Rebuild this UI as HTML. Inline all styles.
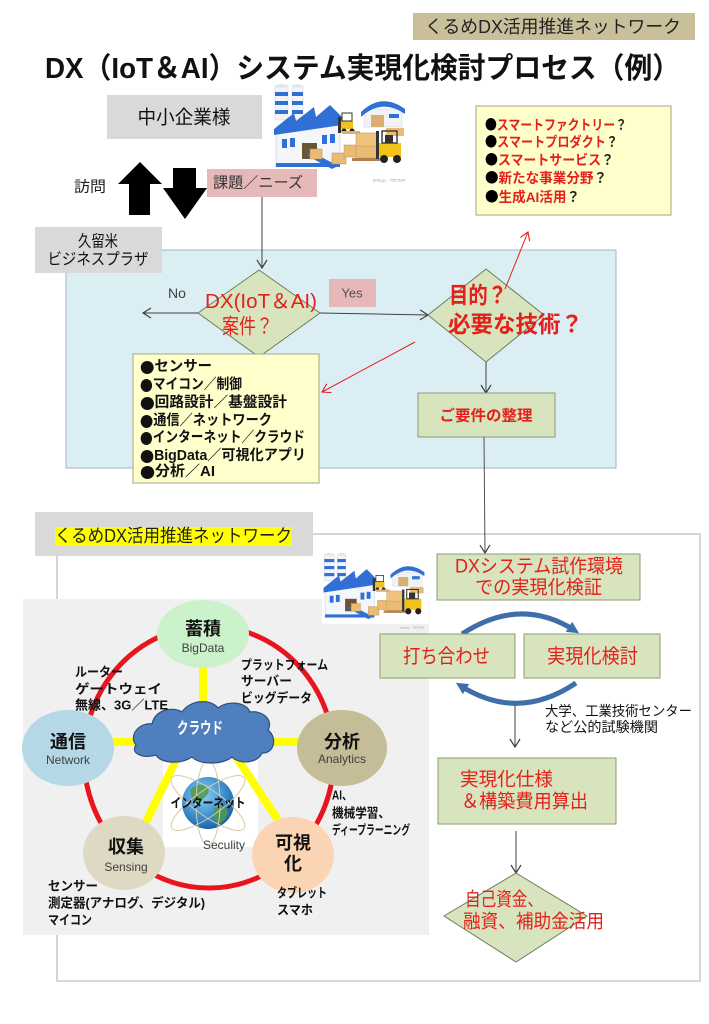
<!DOCTYPE html>
<html><head><meta charset="utf-8">
<style>
html,body{margin:0;padding:0;background:#fff;}
svg{display:block;}
text{font-family:"Liberation Sans","Noto Sans CJK JP",sans-serif;dominant-baseline:central;}
.b{font-family:"Noto Sans CJK JP","WenQuanYi Zen Hei",sans-serif;}
</style></head><body>
<svg width="709" height="1024" viewBox="0 0 709 1024" xmlns="http://www.w3.org/2000/svg">
<defs>
<marker id="ah" markerWidth="12" markerHeight="12" refX="10" refY="6" orient="auto" markerUnits="userSpaceOnUse">
 <path d="M2,1 L10,6 L2,11" fill="none" stroke="#404040" stroke-width="1.2"/>
</marker>
<marker id="ahr" markerWidth="12" markerHeight="12" refX="10" refY="6" orient="auto" markerUnits="userSpaceOnUse">
 <path d="M2,1 L10,6 L2,11" fill="none" stroke="#e3201b" stroke-width="1.1"/>
</marker>
<marker id="ahb" markerWidth="14" markerHeight="14" refX="6" refY="7" orient="auto" markerUnits="userSpaceOnUse">
 <path d="M0,1 L12,7 L0,13 Z" fill="#3f6fa8"/>
</marker>
<radialGradient id="gl" cx="0.4" cy="0.35" r="0.7">
 <stop offset="0" stop-color="#8fd0f4"/>
 <stop offset="0.6" stop-color="#3a8fd0"/>
 <stop offset="1" stop-color="#1d5d9e"/>
</radialGradient>
<g id="factory">
 <rect x="0" y="0" width="138" height="92" fill="#fff"/>
 <rect x="3" y="3" width="13" height="34" fill="#f2f4f8" stroke="#c8d0dc" stroke-width="0.5"/>
 <rect x="3" y="9" width="13" height="4" fill="#2f6fd6"/>
 <rect x="3" y="18" width="13" height="4" fill="#2f6fd6"/>
 <rect x="3" y="27" width="13" height="4" fill="#2f6fd6"/>
 <ellipse cx="9.5" cy="3" rx="6.5" ry="2" fill="#e4e8ee"/>
 <rect x="20" y="3" width="11" height="34" fill="#f2f4f8" stroke="#c8d0dc" stroke-width="0.5"/>
 <rect x="20" y="9" width="11" height="4" fill="#2f6fd6"/>
 <rect x="20" y="18" width="11" height="4" fill="#2f6fd6"/>
 <rect x="20" y="27" width="11" height="4" fill="#2f6fd6"/>
 <ellipse cx="25.5" cy="3" rx="5.5" ry="2" fill="#e4e8ee"/>
 <polygon points="4,48 68,40 68,78 4,84" fill="#f4f6fa" stroke="#c0c8d8" stroke-width="0.6"/>
 <polygon points="2,46 22,30 24,38 42,24 44,34 58,22 70,34 70,42 2,52" fill="#2f6fd6"/>
 <rect x="4" y="80" width="64" height="4" fill="#2f6fd6"/>
 <rect x="10" y="56" width="5" height="9" fill="#2f6fd6"/>
 <rect x="18" y="55" width="5" height="9" fill="#2f6fd6"/>
 <rect x="50" y="52" width="5" height="9" fill="#2f6fd6"/>
 <rect x="58" y="51" width="5" height="9" fill="#2f6fd6"/>
 <rect x="30" y="60" width="15" height="16" fill="#6a5436"/>
 <polygon points="34,72 60,86 66,83 40,69" fill="#2f6fd6"/>
 <rect x="38" y="66" width="12" height="10" fill="#e9bb73" stroke="#c49050" stroke-width="0.5"/>
 <rect x="60" y="70" width="14" height="11" fill="#e9bb73" stroke="#c49050" stroke-width="0.5"/>
 <rect x="72" y="62" width="16" height="12" fill="#e9bb73" stroke="#c49050" stroke-width="0.5"/>
 <rect x="84" y="50" width="22" height="14" fill="#efc27e" stroke="#c49050" stroke-width="0.5"/>
 <rect x="84" y="63" width="22" height="12" fill="#e9bb73" stroke="#c49050" stroke-width="0.5"/>
 <rect x="80" y="75" width="28" height="3" fill="#b08050"/>
 <rect x="66" y="34" width="3" height="16" fill="#333"/>
 <rect x="69" y="38" width="12" height="8" fill="#f2c21a"/>
 <rect x="70" y="30" width="10" height="8" fill="none" stroke="#333" stroke-width="1"/>
 <circle cx="72" cy="48" r="2.5" fill="#222"/>
 <circle cx="80" cy="48" r="2.5" fill="#222"/>
 <rect x="70" y="48" width="18" height="3" fill="#d9b070"/>
 <rect x="92" y="26" width="38" height="18" fill="#f0f2f6" stroke="#c8d0dc" stroke-width="0.5"/>
 <path d="M89,29 Q110,9 133,26 L133,31 Q110,15 89,34 Z" fill="#2f6fd6"/>
 <rect x="99" y="32" width="13" height="12" fill="#d9b070"/>
 <rect x="117" y="31" width="10" height="4" fill="#2f6fd6"/>
 <rect x="114" y="45" width="18" height="8" fill="#e9bb73"/>
 <rect x="104" y="48" width="3" height="28" fill="#333"/>
 <rect x="107" y="60" width="22" height="14" fill="#f2c21a"/>
 <rect x="110" y="48" width="15" height="12" fill="none" stroke="#333" stroke-width="1.4"/>
 <rect x="113" y="52" width="8" height="8" fill="#333"/>
 <circle cx="112" cy="76" r="4" fill="#222"/>
 <circle cx="125" cy="76" r="4" fill="#222"/>
 <text x="101" y="97" font-size="4" fill="#999">pixta.jp - 7557334</text>
</g>
</defs>

<!-- top label -->
<rect x="413" y="13" width="282" height="27" fill="#c9bf9b"/>
<text x="425" y="27" font-size="18" fill="#222" textLength="256" lengthAdjust="spacingAndGlyphs">くるめDX活用推進ネットワーク</text>

<!-- title -->
<text x="45" y="69" font-size="29" font-weight="bold" fill="#111" textLength="635" lengthAdjust="spacingAndGlyphs">DX（IoT＆AI）システム実現化検討プロセス（例）</text>

<!-- factory image top -->
<use href="#factory" transform="translate(272,83)"/>

<!-- 中小企業様 -->
<rect x="107" y="95" width="155" height="44" fill="#d9d9d9"/>
<text x="184" y="118" font-size="19" fill="#111" text-anchor="middle" textLength="93" lengthAdjust="spacingAndGlyphs">中小企業様</text>

<!-- arrows -->
<polygon points="140,162 162,184 150,184 150,215 129,215 129,184 118,184" fill="#000"/>
<polygon points="173,168 196,168 196,188 207,188 185,219 163,188 173,188" fill="#000"/>
<text x="74" y="187" font-size="15" fill="#222" textLength="32" lengthAdjust="spacingAndGlyphs">訪問</text>

<!-- 課題 -->
<rect x="207" y="169" width="110" height="28" fill="#e6b9b8"/>
<text x="213" y="183" font-size="15" fill="#333" textLength="90" lengthAdjust="spacingAndGlyphs">課題／ニーズ</text>

<!-- yellow top right box -->
<rect x="476" y="106" width="195" height="109" fill="#ffffcc" stroke="#a6a68a" stroke-width="1"/>
<g font-size="14" font-weight="bold">
<text x="485" y="125" textLength="142" lengthAdjust="spacingAndGlyphs"><tspan class="b" fill="#000">●</tspan><tspan fill="#e3201b">スマートファクトリー</tspan><tspan fill="#222">？</tspan></text>
<text x="485" y="142" textLength="133" lengthAdjust="spacingAndGlyphs"><tspan class="b" fill="#000">●</tspan><tspan fill="#e3201b">スマートプロダクト</tspan><tspan fill="#222">？</tspan></text>
<text x="485" y="160" textLength="129" lengthAdjust="spacingAndGlyphs"><tspan class="b" fill="#000">●</tspan><tspan fill="#e3201b">スマートサービス</tspan><tspan fill="#222">？</tspan></text>
<text x="485" y="178" textLength="122" lengthAdjust="spacingAndGlyphs"><tspan class="b" fill="#000">●</tspan><tspan fill="#e3201b">新たな事業分野</tspan><tspan fill="#222">？</tspan></text>
<text x="485" y="197" textLength="95" lengthAdjust="spacingAndGlyphs"><tspan class="b" fill="#000">●</tspan><tspan fill="#e3201b">生成AI活用</tspan><tspan fill="#222">？</tspan></text>
</g>

<!-- blue box -->
<rect x="66" y="250" width="550" height="218" fill="#dbeef4" stroke="#a0b4c4" stroke-width="1"/>

<!-- 久留米 box -->
<rect x="35" y="227" width="127" height="46" fill="#d9d9d9"/>
<text x="98" y="242" font-size="16" fill="#111" text-anchor="middle" textLength="40" lengthAdjust="spacingAndGlyphs">久留米</text>
<text x="98" y="260" font-size="16" fill="#111" text-anchor="middle" textLength="101" lengthAdjust="spacingAndGlyphs">ビジネスプラザ</text>

<!-- connector 課題 -> diamond -->
<line x1="262" y1="197" x2="262" y2="268" stroke="#404040" stroke-width="1" marker-end="url(#ah)"/>

<!-- left diamond -->
<polygon points="259,270 320,313 259,357 198,313" fill="#d7e4bd" stroke="#6e7d60" stroke-width="1"/>
<line x1="198" y1="313" x2="143" y2="313" stroke="#404040" stroke-width="1" marker-end="url(#ah)"/>
<text x="168" y="293" font-size="14" fill="#404040">No</text>
<text x="205" y="302" font-size="20" fill="#e3201b" textLength="112" lengthAdjust="spacingAndGlyphs">DX(IoT＆AI)</text>
<text x="222" y="327" font-size="21" fill="#e3201b" textLength="51" lengthAdjust="spacingAndGlyphs">案件？</text>

<!-- Yes -->
<rect x="329" y="279" width="47" height="28" fill="#e6b9b8"/>
<text x="352" y="293" font-size="13" fill="#505050" text-anchor="middle">Yes</text>
<line x1="320" y1="313" x2="428" y2="315" stroke="#404040" stroke-width="1" marker-end="url(#ah)"/>

<!-- right diamond -->
<polygon points="486,269 544,315 486,362 428,315" fill="#d7e4bd" stroke="#6e7d60" stroke-width="1"/>
<line x1="505" y1="289" x2="528" y2="232" stroke="#e3201b" stroke-width="1" marker-end="url(#ahr)"/>
<text x="449" y="295" font-size="23" font-weight="bold" fill="#e3201b" textLength="58" lengthAdjust="spacingAndGlyphs">目的？</text>
<text x="448" y="324" font-size="23" font-weight="bold" fill="#e3201b" textLength="135" lengthAdjust="spacingAndGlyphs">必要な技術？</text>

<line x1="486" y1="362" x2="486" y2="393" stroke="#404040" stroke-width="1" marker-end="url(#ah)"/>
<rect x="418" y="393" width="137" height="44" fill="#d7e4bd" stroke="#8c9b72" stroke-width="1"/>
<text x="486" y="416" font-size="15" font-weight="bold" fill="#e3201b" text-anchor="middle" textLength="93" lengthAdjust="spacingAndGlyphs">ご要件の整理</text>

<!-- red arrow to list -->
<line x1="415" y1="342" x2="322" y2="392" stroke="#e3201b" stroke-width="1" marker-end="url(#ahr)"/>

<!-- list box -->
<rect x="133" y="354" width="186" height="129" fill="#ffffcc" stroke="#a6a68a" stroke-width="1"/>
<g font-size="14.5" font-weight="bold" fill="#111">
<text x="140" y="367" textLength="72" lengthAdjust="spacingAndGlyphs"><tspan class="b">●</tspan>センサー</text>
<text x="140" y="385" textLength="102" lengthAdjust="spacingAndGlyphs"><tspan class="b">●</tspan>マイコン／制御</text>
<text x="140" y="403" textLength="147" lengthAdjust="spacingAndGlyphs"><tspan class="b">●</tspan>回路設計／基盤設計</text>
<text x="140" y="421" textLength="132" lengthAdjust="spacingAndGlyphs"><tspan class="b">●</tspan>通信／ネットワーク</text>
<text x="140" y="438" textLength="165" lengthAdjust="spacingAndGlyphs"><tspan class="b">●</tspan>インターネット／クラウド</text>
<text x="140" y="456" textLength="166" lengthAdjust="spacingAndGlyphs"><tspan class="b">●</tspan>BigData／可視化アプリ</text>
<text x="140" y="472" textLength="75" lengthAdjust="spacingAndGlyphs"><tspan class="b">●</tspan>分析／AI</text>
</g>

<!-- big box -->
<rect x="57" y="534" width="643" height="447" fill="none" stroke="#c8c8c8" stroke-width="1.5"/>

<!-- line to DX box -->
<line x1="484" y1="437" x2="485" y2="553" stroke="#505050" stroke-width="1" marker-end="url(#ah)"/>

<!-- gray label -->
<rect x="35" y="512" width="278" height="44" fill="#d9d9d9"/>
<rect x="55" y="527" width="237" height="19" fill="#ffff00"/>
<text x="55" y="536" font-size="18" fill="#222" textLength="237" lengthAdjust="spacingAndGlyphs">くるめDX活用推進ネットワーク</text>

<!-- network panel -->
<rect x="23" y="599" width="406" height="336" fill="#f0f0f0"/>
<ellipse cx="209" cy="757" rx="125" ry="131" fill="none" stroke="#e8141e" stroke-width="5"/>

<!-- internet -->
<rect x="163" y="757" width="95" height="90" fill="#fff"/>
<circle cx="208" cy="803" r="26" fill="url(#gl)"/>
<path d="M190,790 q8,-8 16,-4 q6,6 -2,12 q-6,8 -12,2 z" fill="#4f9a48" opacity="0.85"/>
<path d="M214,808 q10,-4 14,4 q-2,10 -10,12 q-6,-6 -4,-16 z" fill="#4f9a48" opacity="0.85"/>
<ellipse cx="208" cy="803" rx="44" ry="13" fill="none" stroke="#d9c9a3" stroke-width="1" transform="rotate(35 208 803)"/>
<ellipse cx="208" cy="803" rx="44" ry="13" fill="none" stroke="#d9c9a3" stroke-width="1" transform="rotate(-35 208 803)"/>
<ellipse cx="208" cy="803" rx="42" ry="12" fill="none" stroke="#d9c9a3" stroke-width="1" transform="rotate(90 208 803)"/>
<text x="208" y="803" font-size="13" font-weight="bold" fill="#111" text-anchor="middle" textLength="75" lengthAdjust="spacingAndGlyphs">インターネット</text>
<text x="203" y="845" font-size="12" fill="#404040" textLength="42" lengthAdjust="spacingAndGlyphs">Seculity</text>

<!-- yellow connectors -->
<g stroke="#ffff00" stroke-width="8" stroke-linecap="butt">
<line x1="203" y1="664" x2="203" y2="704"/>
<line x1="110" y1="742" x2="138" y2="742"/>
<line x1="266" y1="742" x2="300" y2="742"/>
<line x1="178" y1="756" x2="145" y2="824"/>
<line x1="235" y1="755" x2="278" y2="820"/>
</g>

<!-- cloud -->
<path d="M136,745 C128,735 140,722 152,724 C155,710 172,706 182,712 C190,700 210,698 218,708 C228,700 246,702 250,712 C262,710 274,720 268,730 C278,738 274,754 262,753 C258,763 240,765 232,757 C222,765 200,765 192,757 C180,765 160,763 156,755 C142,759 130,753 136,745 Z" fill="#4f7fbe" stroke="#2f4f7f" stroke-width="1.2"/>
<text x="200" y="729" font-size="16" font-weight="bold" fill="#fff" text-anchor="middle" textLength="46" lengthAdjust="spacingAndGlyphs">クラウド</text>

<!-- ellipses -->
<ellipse cx="203" cy="634" rx="46" ry="34" fill="#ccf2cc"/>
<text x="203" y="629" font-size="18" font-weight="bold" fill="#111" text-anchor="middle">蓄積</text>
<text x="203" y="648" font-size="12" fill="#404040" text-anchor="middle">BigData</text>

<ellipse cx="68" cy="748" rx="46" ry="38" fill="#b4d8e6"/>
<text x="68" y="742" font-size="18" font-weight="bold" fill="#111" text-anchor="middle">通信</text>
<text x="68" y="760" font-size="12" fill="#404040" text-anchor="middle">Network</text>

<ellipse cx="342" cy="748" rx="45" ry="38" fill="#c4bd97"/>
<text x="342" y="742" font-size="18" font-weight="bold" fill="#111" text-anchor="middle">分析</text>
<text x="342" y="759" font-size="12" fill="#404040" text-anchor="middle">Analytics</text>

<ellipse cx="124" cy="853" rx="41" ry="37" fill="#ddd9c3"/>
<text x="126" y="847" font-size="18" font-weight="bold" fill="#111" text-anchor="middle">収集</text>
<text x="126" y="867" font-size="12" fill="#404040" text-anchor="middle">Sensing</text>

<ellipse cx="293" cy="855" rx="41" ry="38" fill="#fbd4b4"/>
<text x="293" y="843" font-size="18" font-weight="bold" fill="#111" text-anchor="middle">可視</text>
<text x="293" y="864" font-size="18" font-weight="bold" fill="#111" text-anchor="middle">化</text>

<!-- network labels -->
<g font-size="13" font-weight="bold" fill="#111">
<text x="75" y="672" textLength="48" lengthAdjust="spacingAndGlyphs">ルーター</text>
<text x="75" y="689" textLength="87" lengthAdjust="spacingAndGlyphs">ゲートウェイ</text>
<text x="75" y="705" textLength="93" lengthAdjust="spacingAndGlyphs">無線、3G／LTE</text>
<text x="241" y="665" textLength="87" lengthAdjust="spacingAndGlyphs">プラットフォーム</text>
<text x="241" y="681" textLength="51" lengthAdjust="spacingAndGlyphs">サーバー</text>
<text x="241" y="698" textLength="71" lengthAdjust="spacingAndGlyphs">ビッグデータ</text>
<text x="332" y="795" textLength="20" lengthAdjust="spacingAndGlyphs">AI、</text>
<text x="332" y="813" textLength="58" lengthAdjust="spacingAndGlyphs">機械学習、</text>
<text x="332" y="830" textLength="78" lengthAdjust="spacingAndGlyphs">ディープラーニング</text>
<text x="277" y="893" textLength="50" lengthAdjust="spacingAndGlyphs">タブレット</text>
<text x="277" y="910" textLength="36" lengthAdjust="spacingAndGlyphs">スマホ</text>
<text x="48" y="886" textLength="50" lengthAdjust="spacingAndGlyphs">センサー</text>
<text x="48" y="903" textLength="157" lengthAdjust="spacingAndGlyphs">測定器(アナログ、デジタル)</text>
<text x="48" y="920" textLength="44" lengthAdjust="spacingAndGlyphs">マイコン</text>
</g>

<!-- small factory (on top of panel) -->
<use href="#factory" transform="translate(322,552) scale(0.77,0.78)"/>

<!-- right flow -->
<rect x="437" y="554" width="203" height="46" fill="#d7e4bd" stroke="#8c9b72" stroke-width="1"/>
<text x="455" y="567" font-size="19" fill="#e3201b" textLength="168" lengthAdjust="spacingAndGlyphs">DXシステム試作環境</text>
<text x="475" y="588" font-size="19" fill="#e3201b" textLength="127" lengthAdjust="spacingAndGlyphs">での実現化検証</text>

<path d="M462,634 Q520,596 574,630" fill="none" stroke="#3f6fa8" stroke-width="5" marker-end="url(#ahb)"/>
<rect x="380" y="634" width="135" height="44" fill="#d7e4bd" stroke="#8c9b72" stroke-width="1"/>
<text x="403" y="657" font-size="20" fill="#e3201b" textLength="87" lengthAdjust="spacingAndGlyphs">打ち合わせ</text>
<rect x="524" y="634" width="136" height="44" fill="#d7e4bd" stroke="#8c9b72" stroke-width="1"/>
<text x="547" y="657" font-size="20" fill="#e3201b" textLength="91" lengthAdjust="spacingAndGlyphs">実現化検討</text>
<path d="M576,683 Q518,722 461,686" fill="none" stroke="#3f6fa8" stroke-width="5" marker-end="url(#ahb)"/>

<line x1="515" y1="705" x2="515" y2="747" stroke="#404040" stroke-width="1" marker-end="url(#ah)"/>
<text x="545" y="711" font-size="14" fill="#111" textLength="147" lengthAdjust="spacingAndGlyphs">大学、工業技術センター</text>
<text x="545" y="727" font-size="14" fill="#111" textLength="113" lengthAdjust="spacingAndGlyphs">など公的試験機関</text>

<rect x="438" y="758" width="178" height="66" fill="#d7e4bd" stroke="#8c9b72" stroke-width="1"/>
<text x="460" y="780" font-size="19" fill="#e3201b" textLength="93" lengthAdjust="spacingAndGlyphs">実現化仕様</text>
<text x="461" y="802" font-size="19" fill="#e3201b" textLength="127" lengthAdjust="spacingAndGlyphs">＆構築費用算出</text>

<line x1="516" y1="831" x2="516" y2="873" stroke="#404040" stroke-width="1" marker-end="url(#ah)"/>
<polygon points="516,873 587,916 516,962 444,916" fill="#d7e4bd" stroke="#6e7d60" stroke-width="1"/>
<text x="465" y="900" font-size="19" fill="#e3201b" textLength="78" lengthAdjust="spacingAndGlyphs">自己資金、</text>
<text x="463" y="922" font-size="19" fill="#e3201b" textLength="141" lengthAdjust="spacingAndGlyphs">融資、補助金活用</text>
</svg>
</body></html>
